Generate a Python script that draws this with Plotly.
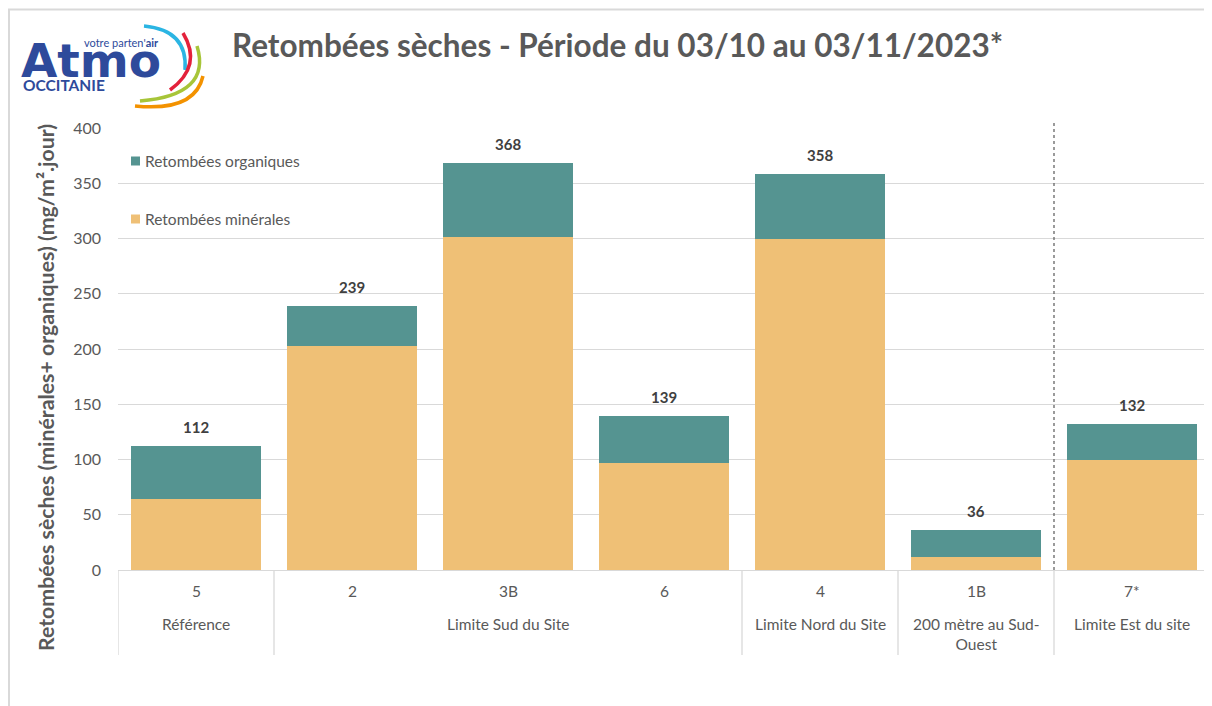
import plotly.graph_objects as go

# ---- data ----
stations = ["5", "2", "3B", "6", "4", "1B", "7*"]
groups = ["Référence", "Limite Sud du Site", "Limite Nord du Site", "200 mètre au Sud-<br>Ouest", "Limite Est du site"]
group_spans = [(0, 0), (1, 3), (4, 4), (5, 5), (6, 6)]
minerales = [64, 203, 301, 97, 300, 12, 100]
organiques = [48, 36, 67, 42, 58, 24, 32]
totaux = [112, 239, 368, 139, 358, 36, 132]
series_names = ["Retombées organiques", "Retombées minérales"]
title_text = "Retombées sèches - Période du 03/10 au 03/11/2023*"
ytitle = "Retombées sèches (minérales+ organiques) (mg/m².jour)"
yticks = [0, 50, 100, 150, 200, 250, 300, 350, 400]

C_ORG = "#559491"
C_MIN = "#EFC076"
TXT = "#595959"
GRID = "#D9D9D9"
FONT = "Lato"

# page body has an 8px margin: figure drawn at (8, 8)
OFF = 8
W, H = 1212 - OFF, 706 - OFF
# plot area in page (reference) pixels
L, R, T, B = 118, 1210, 128, 570


def px(X):
    return (X - L) / (R - L)


def py(Y):
    return (B - Y) / (B - T)


x = list(range(len(stations)))

fig = go.Figure()
fig.add_trace(go.Bar(x=x, y=minerales, name=series_names[1], marker_color=C_MIN,
                     marker_line_width=0, showlegend=False))
fig.add_trace(go.Bar(x=x, y=organiques, name=series_names[0], marker_color=C_ORG,
                     marker_line_width=0, showlegend=False))

ann = []
shapes = []

# data labels
for xi, t in zip(x, totaux):
    ann.append(dict(x=xi, y=t, xref="x", yref="y", text=f"<b>{t}</b>", showarrow=False,
                    yanchor="bottom", yshift=8, font=dict(size=15, color="#404040", family=FONT)))

# station labels (first row)
for xi, s in zip(x, stations):
    ann.append(dict(x=xi, y=py(591), xref="x", yref="paper", text=s, showarrow=False,
                    yanchor="middle", font=dict(size=15.5, color=TXT, family=FONT)))

# group labels (second row)
for g, (a, b) in zip(groups, group_spans):
    ann.append(dict(x=(a + b) / 2, y=py(613), xref="x", yref="paper", text=g, showarrow=False,
                    yanchor="top", font=dict(size=15.5, color=TXT, family=FONT)))

# table dividers
for xb in [-0.5] + [b + 0.5 for a, b in group_spans]:
    shapes.append(dict(type="line", xref="x", yref="paper", x0=xb, x1=xb, y0=0, y1=py(655),
                       line=dict(color=GRID, width=1.3)))

# dashed separator
shapes.append(dict(type="line", xref="x", yref="paper", x0=5.5, x1=5.5, y0=0, y1=py(122),
                   line=dict(color="#595959", width=1.2, dash="dot")))

# frame lines
shapes.append(dict(type="line", xref="paper", yref="paper", x0=px(8), x1=px(1212), y0=py(9.5), y1=py(9.5),
                   line=dict(color=GRID, width=2)))
shapes.append(dict(type="line", xref="paper", yref="paper", x0=px(9), x1=px(9), y0=py(9.5), y1=py(706),
                   line=dict(color=GRID, width=2)))

# manual legend
for name, col, yc in [(series_names[0], C_ORG, 161), (series_names[1], C_MIN, 219)]:
    shapes.append(dict(type="rect", xref="paper", yref="paper", x0=px(131), x1=px(140),
                       y0=py(yc + 4.5), y1=py(yc - 4.5), fillcolor=col, line=dict(width=0)))
    ann.append(dict(x=px(143), y=py(yc), xref="paper", yref="paper", text=name, showarrow=False,
                    xanchor="left", yanchor="middle", font=dict(size=15.5, color=TXT, family=FONT)))

# title
ann.append(dict(x=px(230), y=py(45), xref="paper", yref="paper", text=f"<b>{title_text}</b>",
                showarrow=False, xanchor="left", yanchor="middle",
                font=dict(size=31.5, color=TXT, family=FONT)))

# y axis title
ann.append(dict(x=px(46), y=py(388), xref="paper", yref="paper", text=f"<b>{ytitle}</b>",
                showarrow=False, textangle=-90, xanchor="center", yanchor="middle",
                font=dict(size=21.3, color=TXT, family=FONT)))

# logo
BLUE = "#2E4A9B"
ann.append(dict(x=px(19), y=py(60), xref="paper", yref="paper", text="<b>Atmo</b>", showarrow=False,
                xanchor="left", yanchor="middle",
                font=dict(size=47, color=BLUE, family="DejaVu Sans")))
ann.append(dict(x=px(82), y=py(42), xref="paper", yref="paper", text="votre parten'<b>air</b>",
                showarrow=False, xanchor="left", yanchor="middle",
                font=dict(size=11, color=BLUE, family=FONT)))
ann.append(dict(x=px(21), y=py(85), xref="paper", yref="paper", text="<b>OCCITANIE</b>",
                showarrow=False, xanchor="left", yanchor="middle",
                font=dict(size=15.5, color=BLUE, family=FONT)))


def qpath(p0, c, p1):
    return (f"M {px(p0[0])},{py(p0[1])} Q {px(c[0])},{py(c[1])} {px(p1[0])},{py(p1[1])}")


arcs = [
    ("#2BB5E3", (144, 26), (188, 30), (185, 70)),
    ("#E3213B", (183, 33), (203, 66), (170, 90)),
    ("#A7C539", (197, 46), (212, 95), (140, 101)),
    ("#F39200", (203, 76), (195, 112), (135, 106)),
]
for col, a, c, b in arcs:
    shapes.append(dict(type="path", xref="paper", yref="paper", path=qpath(a, c, b),
                       line=dict(color=col, width=3.5)))

fig.update_layout(
    width=W, height=H,
    margin=dict(l=L - OFF, r=W - (R - OFF), t=T - OFF, b=H - (B - OFF), pad=0),
    barmode="stack", bargap=0.167,
    paper_bgcolor="white", plot_bgcolor="white",
    showlegend=False,
    annotations=ann, shapes=shapes,
    font=dict(family=FONT, color=TXT),
    xaxis=dict(range=[-0.5, 6.5], showticklabels=False, showgrid=False, zeroline=False,
               showline=True, linecolor=GRID, linewidth=1.3, ticks=""),
    yaxis=dict(range=[0, 400], tickvals=yticks, showgrid=True, gridcolor=GRID, gridwidth=1.3,
               zeroline=False, showline=False, ticks="", ticklabelstandoff=16,
               tickfont=dict(size=16, color=TXT, family=FONT)),
)
fig.write_html("out.html")
